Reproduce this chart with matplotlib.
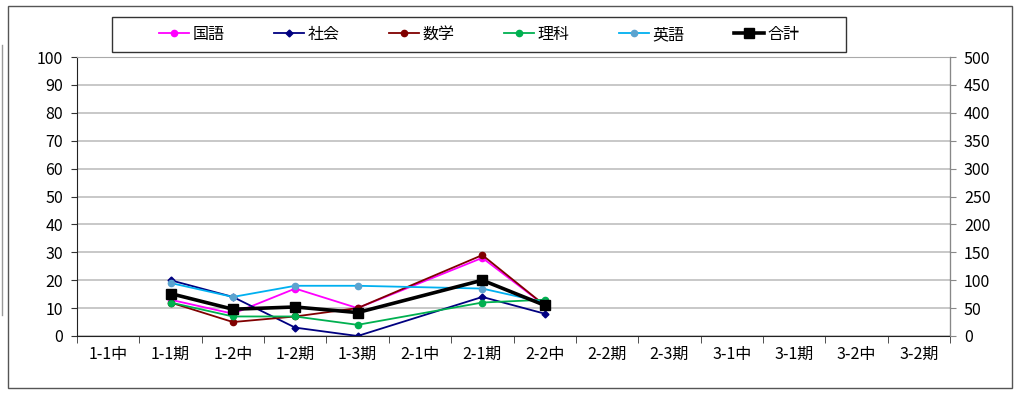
import numpy as np
import matplotlib
import matplotlib.pyplot as plt
from matplotlib.patches import Rectangle
from matplotlib.lines import Line2D

matplotlib.use('Agg')
plt.rcParams['font.family'] = ['Noto Sans CJK JP', 'DejaVu Sans']

# Categories along the x axis
terms = ['1-1中', '1-1期', '1-2中', '1-2期', '1-3期', '2-1中', '2-1期',
         '2-2中', '2-2期', '2-3期', '3-1中', '3-1期', '3-2中', '3-2期']
# Only these terms have scores (2-1中 is skipped)
scored = ['1-1期', '1-2中', '1-2期', '1-3期', '2-1期', '2-2中']

kokugo = [13, 8, 17, 10, 28, 11]
shakai = [20, 14, 3, 0, 14, 8]
sugaku = [12, 5, 7, 10, 29, 11]
rika = [12, 7, 7, 4, 12, 13]
eigo = [19, 14, 18, 18, 17, 12]
goukei = [76, 48, 52, 42, 100, 55]

FS = 11.5

fig = plt.figure(figsize=(10.24, 3.94), dpi=100)
# chart frame
fig.patches.append(Rectangle((8 / 1024, 6 / 394), 1004 / 1024, 382 / 394,
                             transform=fig.transFigure, fill=False,
                             edgecolor='#555555', linewidth=1))
# bit of the sheet behind the chart
fig.lines.append(Line2D([2 / 1024, 2 / 1024], [1 - 45 / 394, 1 - 315 / 394],
                        transform=fig.transFigure, color='#999999', lw=1))
# legend box
fig.patches.append(Rectangle((112 / 1024, 1 - 52 / 394), 734 / 1024, 35 / 394,
                             transform=fig.transFigure, fill=False,
                             edgecolor='#333333', linewidth=1))

ax = fig.add_axes([77 / 1024, 1 - 336 / 394, 873 / 1024, 279 / 394])
ax2 = ax.twinx()

xpos = np.arange(len(terms))
xs = [terms.index(t) for t in scored]

h1, = ax.plot(xs, kokugo, color='#FF00FF', marker='o', markersize=4.5, lw=1.3, label='国語')
h2, = ax.plot(xs, shakai, color='#000080', marker='D', markersize=3.5, lw=1.3, label='社会')
h3, = ax.plot(xs, sugaku, color='#800000', marker='o', markersize=4.5, lw=1.3, label='数学')
h4, = ax.plot(xs, rika, color='#00B050', marker='o', markersize=4.5, lw=1.3, label='理科')
h5, = ax.plot(xs, eigo, color='#00B0F0', marker='o', markersize=4.5, lw=1.3,
              markerfacecolor='#5BA3CF', markeredgecolor='#5BA3CF', label='英語')
h6, = ax2.plot(xs, goukei, color='black', marker='s', markersize=7, lw=2.6, label='合計')

ax.set_xlim(-0.5, len(terms) - 0.5)
ax.set_ylim(0, 100)
ax.set_yticks(np.arange(0, 101, 10))
ax2.set_ylim(0, 500)
ax2.set_yticks(np.arange(0, 501, 50))

ax.set_xticks(xpos)
ax.set_xticklabels(terms, fontsize=FS)
ax.set_xticks(np.arange(-0.5, len(terms), 1), minor=True)
ax.tick_params(axis='x', which='major', length=0, pad=7)
ax.tick_params(axis='x', which='minor', length=5, direction='out', color='#333333')
ax.tick_params(axis='y', length=4, direction='out', labelsize=FS, color='#333333', pad=6)
ax2.tick_params(axis='y', length=4, direction='out', labelsize=FS, color='#888888', pad=6)

ax.grid(axis='y', color='#BFBFBF', lw=1.2)
ax.set_axisbelow(True)
ax.spines['left'].set_color('#222222')
ax.spines['bottom'].set_color('#222222')
ax.spines['top'].set_color('#AAAAAA')
ax2.spines['right'].set_color('#888888')
ax2.spines['top'].set_visible(False)
ax2.spines['left'].set_visible(False)
ax2.spines['bottom'].set_visible(False)

fig.legend(handles=[h1, h2, h3, h4, h5, h6], loc='center',
           bbox_to_anchor=(479 / 1024, 1 - 34.5 / 394), ncol=6,
           fontsize=FS, frameon=False, columnspacing=3.1,
           handlelength=1.9, handletextpad=0.2)

fig.savefig('out.png', dpi=100)
